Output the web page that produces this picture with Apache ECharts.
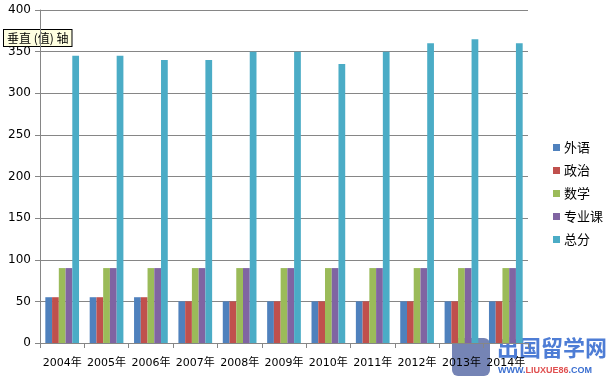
<!DOCTYPE html>
<html><head><meta charset="utf-8">
<script src="https://cdn.jsdelivr.net/npm/echarts@6/dist/echarts.min.js"></script>
<style>html,body{margin:0;padding:0;background:#fff}#c{width:611px;height:381px}</style>
</head><body><div id="c"></div>
<script>
const categories = ['2004年','2005年','2006年','2007年','2008年','2009年','2010年','2011年','2012年','2013年','2014年'];
const seriesNames = ['外语','政治','数学','专业课','总分'];
const waiyu   = [55,55,55,50,50,50,50,50,50,50,50];
const zhengzhi= [55,55,55,50,50,50,50,50,50,50,50];
const shuxue  = [90,90,90,90,90,90,90,90,90,90,90];
const zhuanye = [90,90,90,90,90,90,90,90,90,90,90];
const zongfen = [345,345,340,340,350,350,335,350,360,365,360];
const yTicks = [0,50,100,150,200,250,300,350,400];
const colors = ['#4F81BD','#C0504D','#9BBB59','#8064A2','#4BACC6'];
const values = [waiyu, zhengzhi, shuxue, zhuanye, zongfen];
const font = 'DejaVu Sans, "Noto Sans CJK SC", sans-serif';

const chart = echarts.init(document.getElementById('c'));
chart.setOption({
  animation:false,
  color: colors,
  grid:{left:40, right:83, top:10, bottom:38, containLabel:false},
  legend:{
    orient:'vertical', left:548, top:136, itemWidth:7, itemHeight:7, itemGap:10,
    icon:'rect', textStyle:{fontSize:13, color:'#000', fontFamily:'"Noto Sans CJK SC", sans-serif', padding:[0,0,0,-1]},
    data: seriesNames
  },
  xAxis:{
    type:'category', data:categories,
    axisLine:{lineStyle:{color:'#868686'}},
    axisTick:{show:true, alignWithLabel:false, length:5, lineStyle:{color:'#868686'}},
    axisLabel:{fontSize:11, color:'#000', fontFamily:font, margin:15, interval:0}
  },
  yAxis:{
    type:'value', min:yTicks[0], max:yTicks[yTicks.length-1], interval:50,
    axisLine:{show:true, lineStyle:{color:'#868686'}},
    axisTick:{show:true, length:5, lineStyle:{color:'#868686'}},
    splitLine:{lineStyle:{color:'#868686'}},
    axisLabel:{fontSize:12, color:'#000', fontFamily:font, margin:9}
  },
  series: seriesNames.map((n,i)=>({
    name:n, type:'bar', data:values[i], barGap:'0%', barCategoryGap:'24%'
  })),
  graphic:[
    {type:'text', left:3, top:29, style:{text:'垂直 (值) 轴', fontSize:12, fill:'#000',
      fontFamily:'"Noto Sans CJK SC", sans-serif', backgroundColor:'#FFFFE1', borderColor:'#000', borderWidth:1, padding:[2,3,2,3]}},
    {type:'text', left:497, top:337, style:{text:'出国留学网', fontSize:22, fontWeight:'bold', fill:'#3B6FD0', opacity:0.9,
      fontFamily:'"Noto Sans CJK SC", sans-serif'}},
    {type:'text', left:498, top:366, style:{rich:{a:{fill:'#3B6FD0',fontSize:9,fontWeight:'bold'},b:{fill:'#E05050',fontSize:9,fontWeight:'bold'}},
      text:'{a|WWW.}{b|LIUXUE86}{a|.COM}', fontFamily:'DejaVu Sans'}},
    {type:'rect', shape:{x:452, y:338, width:38, height:38, r:6}, style:{fill:'#5D6FA8', opacity:0.85}}
  ]
});
</script></body></html>
